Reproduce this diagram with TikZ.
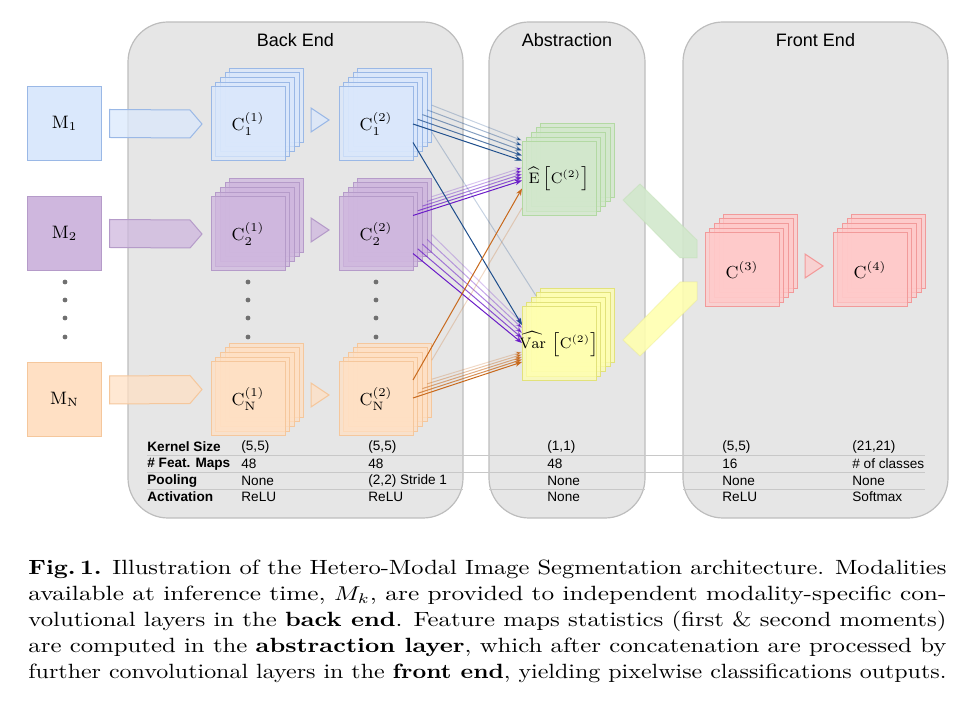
\documentclass[tikz,border=0pt]{standalone}
\usepackage{graphicx}
\usepackage{fontspec}
\newfontfamily\diagsans{Liberation Sans}
\usetikzlibrary{calc,arrows.meta}

\definecolor{panelgray}{HTML}{E6E6E6}
\definecolor{paneledge}{HTML}{BDBDBD}
\definecolor{rulegray}{HTML}{C8C8C8}
\definecolor{dotgray}{HTML}{707070}
\definecolor{bluefill}{HTML}{DAE8FC}
\definecolor{blueedge}{HTML}{9AB8E6}
\definecolor{purplefill}{HTML}{CFB7DE}
\definecolor{purpleedge}{HTML}{B59BC9}
\definecolor{orangefill}{HTML}{FFE0C4}
\definecolor{orangeedge}{HTML}{F5C79C}
\definecolor{greenfill}{HTML}{D2E8CC}
\definecolor{greenedge}{HTML}{B3D9A3}
\definecolor{yellowfill}{HTML}{FFFFB0}
\definecolor{yellowedge}{HTML}{E2E27A}
\definecolor{redfill}{HTML}{FFCACA}
\definecolor{rededge}{HTML}{F29A9A}
\definecolor{bluewire}{HTML}{1E4E8C}
\definecolor{purplewire}{HTML}{6A1BC8}
\definecolor{orangewire}{HTML}{C8691C}

\tikzset{
	panel/.style={fill=panelgray,draw=paneledge,line width=0.6pt,rounded corners=20pt},
	ttl/.style={font=\diagsans\fontsize{9}{10}\selectfont,inner sep=0pt},
	fmap/.style={minimum size=37pt,inner sep=0pt,outer sep=0pt,line width=0.5pt,fill opacity=0.75},
	mbox/.style={minimum size=37pt,inner sep=0pt,outer sep=0pt,line width=0.5pt,font=\fontsize{9}{10}\selectfont},
	lbl/.style={font=\fontsize{8.7}{10}\selectfont,inner sep=0pt},
	stat/.style={font=\fontsize{7.6}{9}\selectfont},
	bluemap/.style={fill=bluefill,draw=blueedge},
	purplemap/.style={fill=purplefill,draw=purpleedge},
	orangemap/.style={fill=orangefill,draw=orangeedge},
	greenmap/.style={fill=greenfill,draw=greenedge},
	yellowmap/.style={fill=yellowfill,draw=yellowedge},
	redmap/.style={fill=redfill,draw=rededge},
	wire/.style={line width=0.5pt,-{Stealth[length=3.5pt,width=2.6pt]}},
	rule/.style={draw=rulegray,line width=0.5pt},
	tabhead/.style={font=\diagsans\bfseries\fontsize{6.8}{8}\selectfont,anchor=west,inner sep=0pt},
	tabval/.style={font=\diagsans\fontsize{6.8}{8}\selectfont,anchor=west,inner sep=0pt},
	caption/.style={font=\fontsize{10.3}{13}\selectfont,align=left,inner sep=0pt}
}

% stack of five feature maps, front one is #1-0
\newcommand{\fmstack}[6][]
{
	\foreach \k in {4,3,2,1,0}{
		\node[fmap,#5,anchor=north west] (#2-\k) at (#3+4.7*\k,#4-4.7*\k) {};
	}
	\node[lbl,#1] (#2) at (#2-0.center) {#6};
}

% fat input arrow
\newcommand{\inarrow}[4]
{
	\filldraw[#4,fill opacity=0.75,line width=0.5pt]
		($(#1.east)+(8,#3-14)$) -- ($(#2.west)+(-21,#3-14)$) -- ($(#2.west)+(-9,#3)$)
		-- ($(#2.west)+(-21,#3+14)$) -- ($(#1.east)+(8,#3+14)$) -- cycle
}

% small step triangle
\newcommand{\steptri}[2]
{
	\filldraw[#2,fill opacity=0.75,line width=0.5pt]
		($(#1.west)+(-28,-16)$) -- ($(#1.west)+(-10,-4)$) -- ($(#1.west)+(-28,8)$) -- cycle
}

% one caption line, set to full width
\newcommand{\capline}[1]{\resizebox{459pt}{\height}{\mbox{#1}}}

\begin{document}
\begin{tikzpicture}[x=0.5pt,y=-0.5pt]
	\useasboundingbox (0,0) rectangle (969,710);
	
	%%% Panels
	\draw[panel] (128,22) rectangle (463,518);
	\draw[panel] (489,22) rectangle (645,518);
	\draw[panel] (683,22) rectangle (948,518);
	\node[ttl] (backend) at (295.5,40) {Back End};
	\node[ttl] (abstraction) at (567,40) {Abstraction};
	\node[ttl] (frontend) at (815.5,40) {Front End};
	
	%%% Table rules
	\draw[rule] (147,456) -- (925,456);
	\draw[rule] (147,473) -- (925,473);
	\draw[rule] (147,490) -- (463,490);
	\draw[rule] (489,490) -- (645,490);
	\draw[rule] (683,490) -- (925,490);
	
	%%% Modalities
	\node[mbox,bluemap] (m1) at (64.5,123.5) {$\mathrm{M}_1$};
	\node[mbox,purplemap] (m2) at (64.5,233.5) {$\mathrm{M}_2$};
	\node[mbox,orangemap] (mN) at (64.5,399.5) {$\mathrm{M}_\mathrm{N}$};
	
	%%% Back end stacks
	\fmstack{c11}{211}{87}{bluemap}{$\mathrm{C}_1^{(1)}$}
	\fmstack{c12}{339}{87}{bluemap}{$\mathrm{C}_1^{(2)}$}
	\fmstack{c21}{211}{197}{purplemap}{$\mathrm{C}_2^{(1)}$}
	\fmstack{c22}{339}{197}{purplemap}{$\mathrm{C}_2^{(2)}$}
	\fmstack{cN1}{211}{362}{orangemap}{$\mathrm{C}_\mathrm{N}^{(1)}$}
	\fmstack{cN2}{339}{362}{orangemap}{$\mathrm{C}_\mathrm{N}^{(2)}$}
	
	\inarrow{m1}{c11-0}{0}{bluemap};
	\inarrow{m2}{c21-0}{0}{purplemap};
	\inarrow{mN}{cN1-0}{-9.5}{orangemap};
	\steptri{c12-0}{bluemap};
	\steptri{c22-0}{purplemap};
	\steptri{cN2-0}{orangemap};
	
	%%% Dots between rows
	\foreach \x in {65,248,376}{
		\foreach \y in {282,300,318,337}{
			\fill[dotgray] (\x,\y) circle[radius=1.2pt];
		}
	}
	
	%%% Abstraction stacks
	\fmstack[stat]{ex}{522}{142}{greenmap}{$\widehat{\mathrm{E}}\left[\mathrm{C}^{(2)}\right]$}
	\fmstack[stat]{var}{522}{307}{yellowmap}{$\widehat{\mathrm{Var}}\,\left[\mathrm{C}^{(2)}\right]$}
	
	%%% Front end stacks
	\fmstack{c3}{705}{233}{redmap}{$\mathrm{C}^{(3)}$}
	\fmstack{c4}{833}{233}{redmap}{$\mathrm{C}^{(4)}$}
	\steptri{c4-0}{redmap};
	
	%%% Moments into front end
	\filldraw[greenmap,fill opacity=0.9,draw opacity=0.3,line width=0.5pt]
		($(c3-0.west)+(-82,-70)$) -- ($(c3-0.west)+(-65,-86)$) -- ($(c3-0.west)+(-8,-30)$)
		-- ($(c3-0.west)+(-8,-12)$) -- ($(c3-0.west)+(-25,-12)$) -- cycle;
	\filldraw[yellowmap,fill opacity=0.9,draw opacity=0.3,line width=0.5pt]
		($(c3-0.west)+(-82,70)$) -- ($(c3-0.west)+(-65,86)$) -- ($(c3-0.west)+(-8,30)$)
		-- ($(c3-0.west)+(-8,12)$) -- ($(c3-0.west)+(-25,12)$) -- cycle;
	
	%%% Wires to the abstraction layer
	\foreach \k/\o in {0/1,1/0.75,2/0.55,3/0.4,4/0.25}{
		\draw[wire,bluewire,draw opacity=\o] (c12-\k.east) -- ($(ex-0.west)+(0,-18.5-5*\k)$);
		\draw[wire,purplewire,draw opacity=\o] ($(c22-\k.east)+(0,-18.5)$) -- ($(ex-0.west)+(0,1.5-3.2*\k)$);
		\draw[wire,purplewire,draw opacity=\o] ($(c22-\k.east)+(0,19.5)$) -- ($(var-0.west)+(0,-1-5*\k)$);
		\draw[wire,orangewire,draw opacity=\o] ($(cN2-\k.east)+(0,-1)$) -- ($(var-0.west)+(0,18-2.5*\k)$);
	}
	\draw[wire,bluewire] ($(c12-0.east)+(0,18.5)$) -- ($(var-0.west)+(0,-19)$);
	\draw[line width=0.5pt,bluewire,draw opacity=0.25] ($(c12-4.east)+(0,27)$) -- ($(var-3.north west)+(0,3)$);
	\draw[wire,orangewire] ($(cN2-0.east)+(0,-19)$) -- ($(ex-0.west)+(0,9.5)$);
	\draw[line width=0.5pt,orangewire,draw opacity=0.25] ($(cN2-4.east)+(0,-20)$) -- ($(ex-0.west)+(0,29)$);
	
	%%% Layer table
	\node[tabhead] (ks) at (147,447) {Kernel Size};
	\node[tabhead] (nf) at (147,464) {\# Feat. Maps};
	\node[tabhead] (pl) at (147,481) {Pooling};
	\node[tabhead] (ac) at (147,497) {Activation};
	
	\node[tabval] (ks1) at (241,447) {(5,5)};
	\node[tabval] (nf1) at (241,464) {48};
	\node[tabval] (pl1) at (241,481) {None};
	\node[tabval] (ac1) at (241,497) {ReLU};
	
	\node[tabval] (ks2) at (368,447) {(5,5)};
	\node[tabval] (nf2) at (368,464) {48};
	\node[tabval] (pl2) at (368,481) {(2,2) Stride 1};
	\node[tabval] (ac2) at (368,497) {ReLU};
	
	\node[tabval] (ks3) at (547,447) {(1,1)};
	\node[tabval] (nf3) at (547,464) {48};
	\node[tabval] (pl3) at (547,481) {None};
	\node[tabval] (ac3) at (547,497) {None};
	
	\node[tabval] (ks4) at (722,447) {(5,5)};
	\node[tabval] (nf4) at (722,464) {16};
	\node[tabval] (pl4) at (722,481) {None};
	\node[tabval] (ac4) at (722,497) {ReLU};
	
	\node[tabval] (ks5) at (852,447) {(21,21)};
	\node[tabval] (nf5) at (852,464) {\# of classes};
	\node[tabval] (pl5) at (852,481) {None};
	\node[tabval] (ac5) at (852,497) {Softmax};
	
	%%% Caption
	\node[caption,anchor=north west] (cap) at (28,560) {%
		\capline{\textbf{Fig.\,1.} Illustration of the Hetero-Modal Image Segmentation architecture. Modalities}\\
		\capline{available at inference time, $M_k$, are provided to independent modality-specific con-}\\
		\capline{volutional layers in the \textbf{back end}. Feature maps statistics (first \& second moments)}\\
		\capline{are computed in the \textbf{abstraction layer}, which after concatenation are processed by}\\
		\capline{further convolutional layers in the \textbf{front end}, yielding pixelwise classifications outputs.}};
\end{tikzpicture}
\end{document}
